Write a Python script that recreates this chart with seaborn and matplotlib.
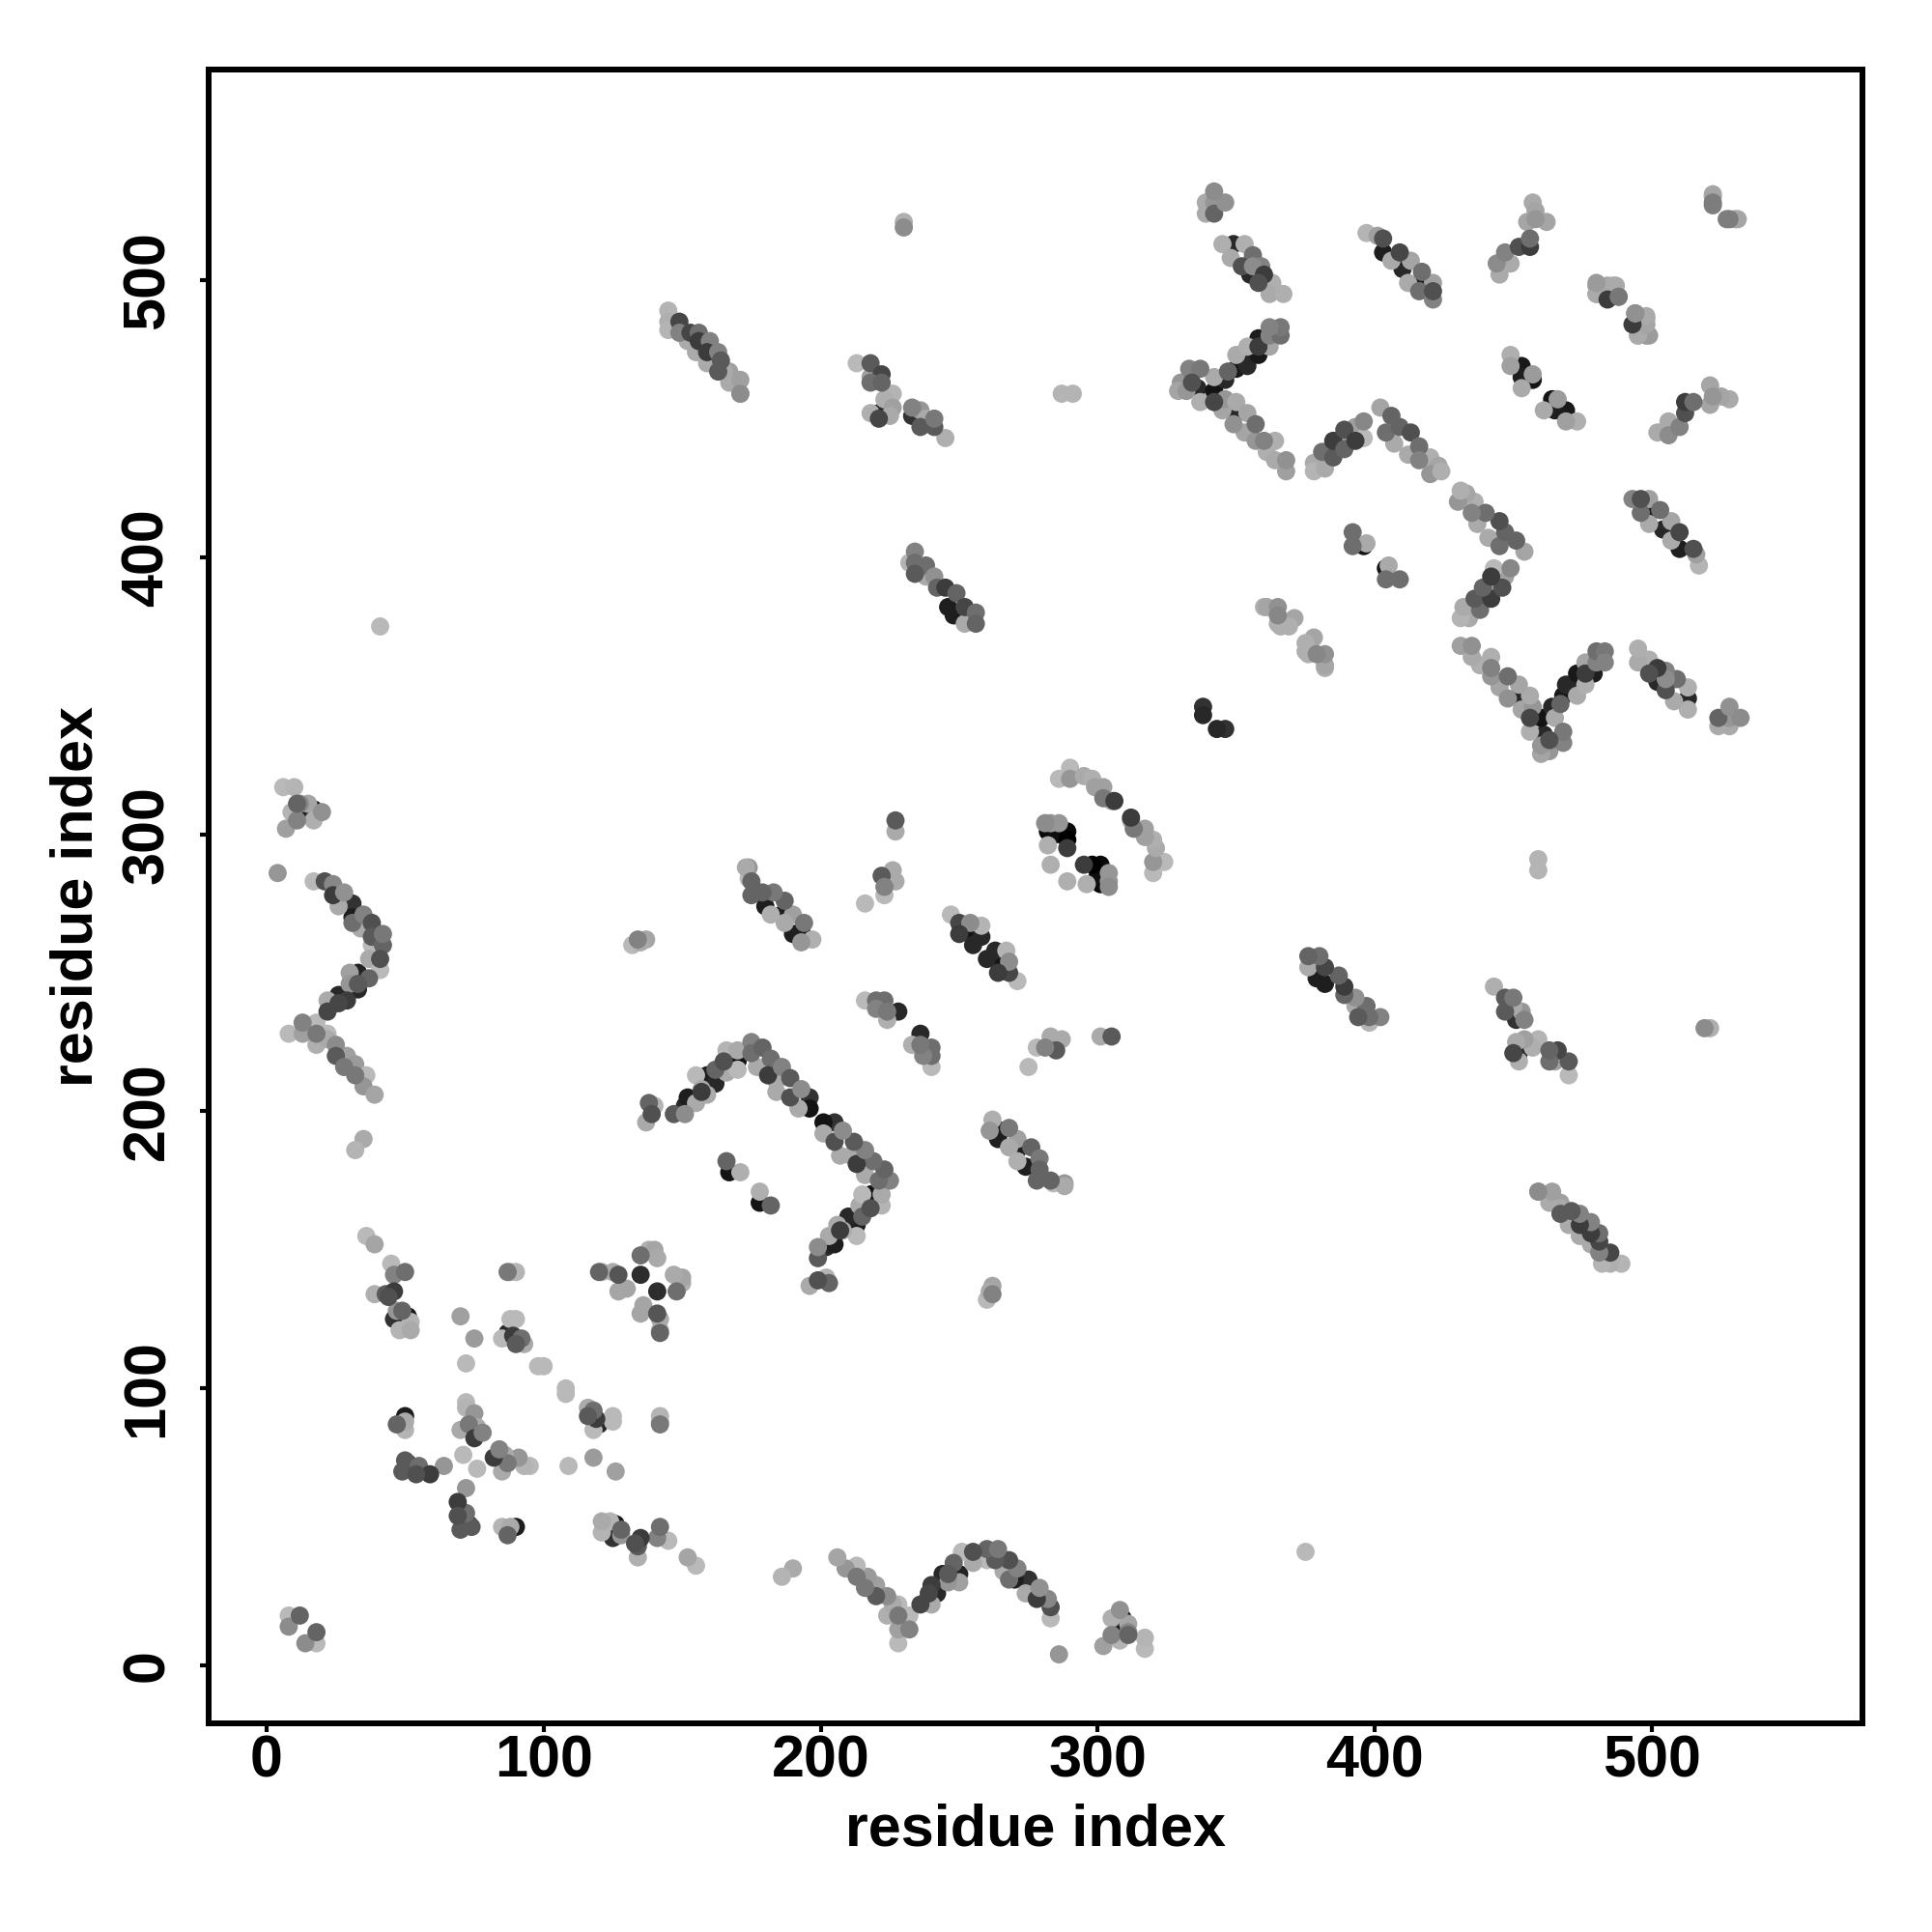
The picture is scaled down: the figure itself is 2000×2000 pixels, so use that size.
import matplotlib
matplotlib.use("Agg")
import matplotlib.pyplot as plt
import pandas as pd
import seaborn as sns

# contact map, upper triangle only (i < j), the picture is symmetric
# near the sequence start
a_i = [8, 8, 12, 6, 10, 11, 12, 9, 15, 17, 15, 17, 20, 11, 7, 4]
a_j = [18, 14, 18, 317, 317, 305, 311, 308, 311, 309, 308, 305, 308, 311, 302, 286]
a_s = [185, 140, 100, 185, 180, 130, 135, 180, 165, 25, 30, 175, 145, 100, 160, 150]

# chevron at residue 20-45, j 205-283
b_i = [17, 21, 24, 24, 28, 26, 31, 31, 31, 35, 38, 34, 38, 42, 42, 38, 37, 41, 41, 37, 33, 30, 33, 30, 33,
       29, 26, 26, 22, 22, 8, 13, 13, 18, 18, 22, 18, 25, 22, 25, 29, 28, 32, 32, 36, 35, 39, 35, 32, 41]
b_j = [283, 283, 282, 278, 279, 274, 275, 270, 268, 271, 268, 266, 263, 260, 264, 260, 255, 255, 251, 248, 250, 250, 244, 246, 246,
       240, 239, 242, 236, 240, 228, 228, 232, 232, 224, 228, 228, 224, 226, 220, 220, 216, 213, 217, 213, 209, 206, 190, 186, 375]
b_s = [185, 80, 135, 60, 145, 170, 50, 30, 110, 130, 80, 170, 90, 100, 120, 185, 170, 80, 185, 100, 35, 160, 40, 150, 90,
       60, 70, 40, 70, 170, 185, 160, 130, 185, 175, 185, 120, 140, 170, 90, 160, 120, 120, 155, 185, 150, 165, 170, 180, 185]

# small helix block around residue 40-150, j 64-155
c_i = [36, 39, 45, 46, 50, 39, 43, 46, 44, 47, 49, 46, 51, 48, 49, 52, 52, 70, 75, 72, 87, 88, 90, 88, 90, 85, 87, 89, 92, 90, 93, 98, 100]
c_j = [155, 152, 145, 141, 142, 134, 134, 135, 133, 128, 128, 125, 126, 121, 123, 124, 121, 126, 118, 109, 142, 142, 142, 125, 125, 118, 120, 119, 118, 116, 116, 108, 108]
c_s = [185, 165, 185, 130, 110, 175, 90, 60, 80, 150, 100, 50, 25, 180, 40, 180, 170, 160, 155, 185, 120, 175, 180, 185, 185, 185, 40, 60, 110, 90, 170, 185, 185]

d_i = [47, 50, 50, 50, 72, 72, 75, 70, 73, 76, 75, 78, 71, 64, 49, 50, 51, 55, 59, 54, 54]
d_j = [87, 90, 85, 88, 95, 93, 91, 85, 87, 86, 82, 84, 76, 72, 70, 74, 73, 72, 69, 71, 69]
d_s = [100, 30, 180, 170, 185, 180, 150, 170, 120, 170, 60, 130, 185, 150, 90, 90, 50, 110, 60, 170, 80]

e_i = [120, 121, 125, 127, 127, 130, 135, 135, 138, 140, 141, 132, 134, 137, 135]
e_j = [142, 142, 142, 141, 135, 136, 141, 148, 150, 150, 147, 260, 262, 262, 261]
e_s = [100, 175, 170, 85, 165, 165, 45, 110, 175, 165, 170, 185, 130, 165, 170]

# chevron 138-196
f_i = [138, 139, 137, 139, 140, 147, 151, 151, 152, 155, 157, 155, 157, 159, 159, 162, 162, 165, 166, 166, 170, 170, 170,
       175, 175, 179, 177, 182, 181, 186, 184, 184, 189, 189, 193, 192, 196, 196]
f_j = [203, 199, 196, 202, 202, 199, 199, 202, 205, 203, 207, 213, 208, 213, 206, 210, 215, 218, 222, 214, 218, 222, 215,
       225, 221, 223, 216, 219, 213, 216, 207, 211, 212, 205, 208, 201, 205, 201]
f_s = [100, 80, 170, 170, 180, 90, 140, 40, 30, 170, 60, 185, 170, 30, 170, 40, 100, 80, 180, 170, 20, 170, 185,
       130, 110, 100, 170, 110, 60, 130, 170, 170, 90, 80, 140, 170, 50, 20]

g_i = [167, 166, 171, 216, 220, 223, 220, 228, 224, 224, 227, 226, 222, 223, 223, 216, 227, 227]
g_j = [178, 182, 178, 240, 240, 240, 237, 236, 236, 233, 283, 287, 285, 278, 281, 275, 305, 301]
g_s = [20, 100, 175, 185, 110, 110, 130, 40, 120, 175, 170, 170, 90, 185, 130, 185, 90, 170]

h_i = [197, 193, 193, 194, 190, 190, 186, 187, 187, 182, 180, 183, 179, 175, 175, 174, 174, 173,
       247, 250, 254, 250, 254, 258, 258, 255]
h_j = [262, 261, 265, 268, 264, 271, 271, 268, 276, 271, 274, 279, 279, 278, 283, 284, 288, 288,
       271, 268, 268, 264, 264, 267, 263, 260]
h_s = [175, 150, 30, 120, 30, 160, 30, 170, 100, 175, 30, 120, 100, 100, 100, 185, 150, 170,
       185, 70, 140, 60, 20, 180, 40, 40]

# ring around 285-325
k_i = [286, 290, 290, 295, 298, 299, 302, 302, 305, 306, 281, 283, 286, 282, 285, 289, 289, 289, 282, 283]
k_j = [320, 324, 320, 321, 320, 317, 317, 313, 312, 312, 304, 304, 304, 301, 300, 301, 298, 295, 296, 289]
k_s = [185, 185, 150, 170, 175, 160, 160, 120, 170, 60, 140, 150, 150, 10, 15, 10, 0, 60, 175, 175]

# long strands with j near 460-490
m_i = [145, 145, 145, 149, 149, 153, 156, 152, 156, 160, 155, 159, 163, 164, 159, 163, 167, 165, 167, 171, 171, 171]
m_j = [489, 485, 482, 485, 481, 481, 481, 478, 478, 478, 474, 474, 474, 471, 470, 467, 467, 467, 463, 459, 464, 459]
m_s = [180, 175, 180, 70, 130, 70, 110, 170, 60, 130, 170, 60, 130, 90, 170, 90, 160, 170, 170, 140, 160, 175]

n_i = [213, 218, 218, 222, 218, 222, 226, 223, 218, 221, 221, 226, 225, 233, 236, 233, 236, 241, 241, 245, 238, 287, 291, 230, 230]
n_j = [470, 470, 465, 466, 463, 463, 459, 457, 452, 452, 450, 454, 451, 454, 453, 451, 447, 447, 450, 443, 450, 459, 459, 519, 521]
n_s = [185, 90, 160, 70, 110, 100, 180, 175, 175, 40, 70, 160, 170, 130, 150, 50, 90, 90, 120, 175, 170, 180, 180, 140, 175]

p_i = [234, 232, 234, 238, 234, 238, 241, 242, 245, 249, 246, 252, 248, 256, 252, 256]
p_j = [402, 398, 398, 397, 394, 393, 393, 389, 389, 387, 382, 382, 379, 380, 376, 376]
p_s = [130, 180, 110, 110, 90, 170, 145, 100, 60, 100, 30, 70, 30, 110, 170, 100]

# upper right strands
q_i = [339, 339, 342, 346, 342, 342, 345, 349, 353, 348, 356, 352, 359, 356, 355, 360, 358, 363, 362, 367, 338, 338]
q_j = [528, 524, 524, 528, 528, 532, 513, 513, 513, 508, 509, 505, 505, 505, 502, 502, 499, 499, 495, 495, 346, 343]
q_s = [170, 170, 100, 145, 150, 140, 175, 40, 175, 170, 110, 80, 130, 140, 40, 60, 80, 175, 170, 175, 50, 40]

r_i = [397, 401, 403, 403, 409, 406, 413, 410, 417, 412, 417, 416, 421, 421, 421]
r_j = [517, 516, 515, 510, 510, 507, 507, 504, 503, 499, 500, 496, 493, 496, 499]
r_s = [180, 160, 80, 30, 70, 170, 165, 40, 110, 170, 30, 110, 130, 80, 160]

s_i = [444, 445, 449, 447, 452, 456, 456, 455, 457, 458, 462, 458, 449, 449, 453, 453, 453, 457, 457]
s_j = [506, 502, 506, 510, 512, 512, 515, 521, 528, 525, 521, 522, 473, 469, 469, 465, 461, 464, 466]
s_s = [140, 170, 170, 130, 80, 60, 110, 165, 170, 165, 165, 150, 175, 160, 25, 30, 170, 20, 155]

t_i = [480, 480, 484, 487, 484, 488, 493, 494, 495, 498, 499, 522, 522, 528, 531]
t_j = [498, 495, 498, 498, 494, 494, 484, 488, 480, 486, 480, 527, 530, 522, 522]
t_s = [155, 170, 165, 170, 50, 145, 60, 120, 170, 170, 155, 125, 165, 125, 165]

# the "<" shape at i 329-368 and the short strands after it
u_i = [333, 337, 330, 329, 332, 334, 336, 337, 342, 342, 342, 345, 347, 346, 350, 350, 354, 354, 358, 354, 358, 362, 358, 362, 366, 366, 362,
       346, 350, 350, 354, 349, 353, 357, 357, 360, 364, 361, 368, 364, 368]
u_j = [468, 468, 463, 460, 460, 463, 461, 456, 460, 456, 465, 453, 467, 464, 468, 473, 469, 473, 473, 476, 476, 476, 479, 480, 480, 483, 483,
       457, 456, 452, 452, 448, 445, 448, 442, 442, 442, 438, 435, 435, 431]
u_s = [130, 120, 150, 165, 150, 80, 40, 175, 20, 70, 170, 165, 100, 40, 25, 170, 40, 40, 25, 175, 60, 165, 30, 130, 110, 120, 130,
       150, 170, 40, 165, 145, 165, 110, 150, 130, 175, 175, 145, 170, 160]

v_i = [360, 365, 365, 368, 371, 369, 366, 365, 361]
v_j = [382, 382, 376, 376, 378, 375, 375, 379, 382]
v_s = [175, 145, 175, 175, 165, 175, 175, 135, 165]

# the "^" shape at i 378-424
w_i = [378, 378, 382, 381, 385, 385, 389, 389, 389, 393, 393, 396, 396, 402, 406, 404, 409, 407, 413, 412, 416, 416, 420, 423, 420, 424,
       392, 392, 396, 397]
w_j = [434, 431, 432, 438, 436, 442, 439, 446, 443, 442, 447, 443, 449, 454, 451, 445, 447, 441, 445, 437, 440, 435, 436, 433, 430, 431,
       409, 404, 404, 405]
w_s = [170, 180, 170, 110, 90, 60, 100, 80, 170, 60, 160, 185, 135, 165, 100, 110, 100, 170, 80, 170, 110, 130, 175, 165, 150, 175,
       110, 110, 20, 170]

res_i = a_i + b_i + c_i + d_i + e_i + f_i + g_i + h_i + k_i + m_i + n_i + p_i + q_i + r_i + s_i + t_i + u_i + v_i + w_i
res_j = a_j + b_j + c_j + d_j + e_j + f_j + g_j + h_j + k_j + m_j + n_j + p_j + q_j + r_j + s_j + t_j + u_j + v_j + w_j
shade = a_s + b_s + c_s + d_s + e_s + f_s + g_s + h_s + k_s + m_s + n_s + p_s + q_s + r_s + s_s + t_s + u_s + v_s + w_s

tick_values = [0, 100, 200, 300, 400, 500]

contacts = pd.DataFrame({
    "x": res_i + res_j,
    "y": res_j + res_i,
    "shade": shade + shade,
})
# draw order: darkest at the bottom, then the light ones, mid greys on top
contacts["layer"] = 2
contacts.loc[contacts["shade"] < 60, "layer"] = 0
contacts.loc[contacts["shade"] >= 150, "layer"] = 1
contacts = contacts.sort_values("layer", kind="stable")

sns.set_theme(style="white")
plt.rcParams["font.family"] = ["Liberation Sans", "DejaVu Sans"]
plt.rcParams["font.weight"] = "bold"

fig = plt.figure(figsize=(10, 10), dpi=200)
ax = fig.add_axes([0.108, 0.108, 0.856, 0.856])

sns.scatterplot(
    data=contacts, x="x", y="y", hue="shade", palette="gray", hue_norm=(0, 255),
    s=46, linewidth=0, legend=False, ax=ax,
)

ax.set_xlim(-20.9, 576)
ax.set_ylim(-20.9, 576)
ax.set_xticks(tick_values)
ax.set_yticks(tick_values)
ax.tick_params(axis="both", length=3.2, width=1.5, color="black", labelsize=22, labelcolor="black")
ax.tick_params(axis="both", bottom=True, left=True)
ax.tick_params(axis="x", pad=1)
ax.tick_params(axis="y", pad=9)
for lab in ax.get_yticklabels():
    lab.set_rotation(90)
    lab.set_va("center")

for side in ax.spines.values():
    side.set_linewidth(2.16)
    side.set_color("black")

ax.set_xlabel("residue index", fontsize=22, fontweight="bold", color="black")
ax.set_ylabel("residue index", fontsize=22, fontweight="bold", color="black")
ax.xaxis.set_label_coords(0.5, -0.048)
ax.yaxis.set_label_coords(-0.0625, 0.5)

fig.savefig("out.png", dpi=200, facecolor="white")
plt.close(fig)
